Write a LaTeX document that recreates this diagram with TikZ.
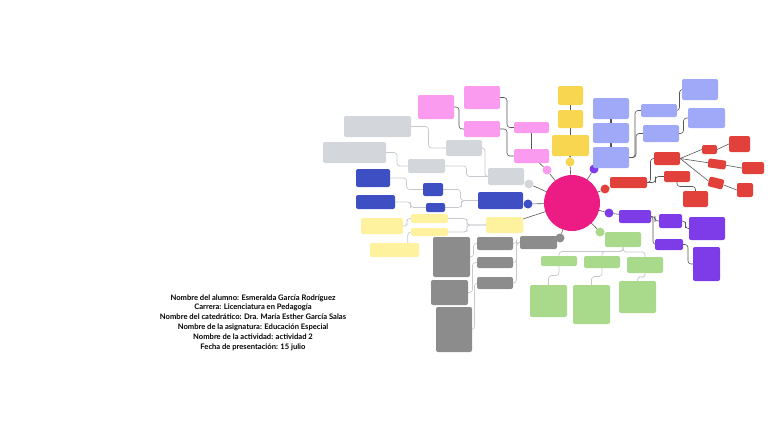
\documentclass[tikz,border=0pt]{standalone}
\usepackage{fontspec}
\setmainfont{Lato}
\usetikzlibrary{calc, backgrounds}
\definecolor{hub}{HTML}{EC1C84}
\definecolor{pkc}{HTML}{FB9BF0}
\definecolor{gyc}{HTML}{D3D6DB}
\definecolor{blc}{HTML}{3D4FC2}
\definecolor{ylc}{HTML}{FFF29E}
\definecolor{ytc}{HTML}{F9D650}
\definecolor{dgc}{HTML}{8C8C8C}
\definecolor{gnc}{HTML}{A9DA8C}
\definecolor{puc}{HTML}{7D3CE8}
\definecolor{rdc}{HTML}{E2403A}
\definecolor{lvc}{HTML}{9FA9F7}
\definecolor{lk}{HTML}{555555}
\definecolor{lkl}{HTML}{C6CAD0}

\begin{document}
\begin{tikzpicture}[x=1pt, y=-1pt,
    box/.style={rounded corners=2pt, inner sep=0pt},
    sz/.style 2 args={minimum width=#1, minimum height=#2},
    pk/.style={box, fill=pkc}, gy/.style={box, fill=gyc}, bl/.style={box, fill=blc},
    yl/.style={box, fill=ylc}, yt/.style={box, fill=ytc}, dg/.style={box, fill=dgc},
    gn/.style={box, fill=gnc}, pu/.style={box, fill=puc}, rd/.style={box, fill=rdc},
    lv/.style={box, fill=lvc},
    dot/.style={circle, inner sep=0pt, minimum size=9},
    ln/.style={draw=lk, line width=0.6pt},
    lnl/.style={draw=lkl, line width=0.7pt},
    stem/.style={draw=lk, line width=1.5pt},
    elbow/.style={rounded corners=3pt, to path={-| ($(\tikztostart)!0.5!(\tikztotarget)$) |- (\tikztotarget)}},
    elbowv/.style={rounded corners=3pt, to path={|- ($(\tikztostart)!0.5!(\tikztotarget)$) -| (\tikztotarget)}}]

  \useasboundingbox (0,0) rectangle (768,431);

  % centre and its dots
  \node[circle, fill=hub, minimum size=56, inner sep=0pt] (hub) at (572,203) {};
  \node[dot, fill=pkc] (cpk) at (547,170) {};
  \node[dot, fill=ytc] (cyl) at (570,162) {};
  \node[dot, fill=puc] (clv) at (594,169) {};
  \node[dot, fill=gyc] (cgy) at (529,184) {};
  \node[dot, fill=blc] (cbl) at (528,204) {};
  \node[dot, fill=dgc] (cdg) at (560,238) {};
  \node[dot, fill=gnc] (cgn) at (600,232) {};
  \node[dot, fill=puc] (cpu) at (609,213) {};
  \node[dot, fill=rdc] (crd) at (605,189) {};

  % pink
  \node[pk, sz={36}{24}] (pkA) at (436,107) {};
  \node[pk, sz={36}{23}] (pkB) at (482,97.5) {};
  \node[pk, sz={36}{16}] (pkC) at (482,129) {};
  \node[pk, sz={35}{11}] (pkD) at (531.5,127.5) {};
  \node[pk, sz={35}{14}] (pkE) at (531.5,156) {};

  % gray
  \node[gy, sz={67}{21}] (g1) at (377.5,126.5) {};
  \node[gy, sz={36}{16}] (g2) at (464,148) {};
  \node[gy, sz={63}{21}] (g3) at (354.5,152.5) {};
  \node[gy, sz={37}{14}] (g4) at (426.5,166) {};
  \node[gy, sz={36}{17}] (g5) at (506,176.5) {};

  % blue
  \node[bl, sz={34}{18}] (b1) at (373,178) {};
  \node[bl, sz={20}{13}] (b2) at (433,189.5) {};
  \node[bl, sz={39}{14}] (b3) at (375.5,202) {};
  \node[bl, sz={19}{9}] (b4) at (435.5,207.5) {};
  \node[bl, sz={45}{17}] (b5) at (500.5,200.5) {};

  % yellow, left
  \node[yl, sz={37}{9}] (y1) at (429.5,218.5) {};
  \node[yl, sz={37}{8}] (y2) at (429.5,232) {};
  \node[yl, sz={42}{16}] (y3) at (382,226) {};
  \node[yl, sz={49}{14}] (y4) at (394.5,250) {};
  \node[yl, sz={37}{16}] (y5) at (504.5,225) {};

  % yellow, top
  \node[yt, sz={25}{19}] (yt1) at (570.5,95.5) {};
  \node[yt, sz={25}{18}] (yt2) at (570.5,119) {};
  \node[yt, sz={37}{21}] (yt3) at (570.5,145.5) {};

  % dark gray
  \node[dg, sz={37}{40}] (d1) at (451.5,257) {};
  \node[dg, sz={37}{25}] (d2) at (449.5,292.5) {};
  \node[dg, sz={36}{45}] (d3) at (454,329.5) {};
  \node[dg, sz={36}{13}] (dm1) at (495,243.5) {};
  \node[dg, sz={36}{11}] (dm2) at (495,262.5) {};
  \node[dg, sz={36}{12}] (dm3) at (495,283) {};
  \node[dg, sz={37}{13}] (dr) at (538.5,242.5) {};

  % green
  \node[gn, sz={36}{15}] (gn0) at (623,239.5) {};
  \node[gn, sz={36}{10}] (gn1) at (559,261) {};
  \node[gn, sz={36}{12}] (gn2) at (602,262) {};
  \node[gn, sz={36}{16}] (gn3) at (645,265) {};
  \node[gn, sz={37}{32}] (gn4) at (548.5,301) {};
  \node[gn, sz={37}{39}] (gn5) at (591.5,304.5) {};
  \node[gn, sz={37}{32}] (gn6) at (637.5,297) {};

  % purple
  \node[pu, sz={32}{13}] (pu1) at (635,216.5) {};
  \node[pu, sz={23}{14}] (pu2) at (670.5,221) {};
  \node[pu, sz={28}{11}] (pu3) at (669,244.5) {};
  \node[pu, sz={36}{23}] (pu4) at (707,228.5) {};
  \node[pu, sz={27}{34}] (pu5) at (706.5,264) {};

  % red
  \node[rd, sz={37}{11}] (r1) at (628.5,182.5) {};
  \node[rd, sz={26}{13}] (r2) at (667,158.5) {};
  \node[rd, sz={26}{11}] (r3) at (677,176.5) {};
  \node[rd, sz={25}{16}] (r4) at (695.5,199) {};
  \node[rd, sz={15}{9}] (r5) at (709.5,149.5) {};
  \node[rd, sz={18}{9}, rotate=-8] (r6) at (717,164) {};
  \node[rd, sz={15}{10}, rotate=-14] (r7) at (716,183) {};
  \node[rd, sz={21}{16}] (r8) at (739.5,144) {};
  \node[rd, sz={22}{12}] (r9) at (753,168) {};
  \node[rd, sz={16}{14}] (r10) at (745,190) {};

  % lavender
  \node[lv, sz={36}{21}] (l1) at (611,108.5) {};
  \node[lv, sz={36}{20}] (l2) at (611,133) {};
  \node[lv, sz={36}{21}] (l3) at (611,157.5) {};
  \node[lv, sz={36}{13}] (la) at (659,110.5) {};
  \node[lv, sz={36}{17}] (lb) at (661,133.5) {};
  \node[lv, sz={36}{21}] (lt1) at (700,89.5) {};
  \node[lv, sz={37}{20}] (lt2) at (706.5,118) {};

  \node[font=\bfseries\fontsize{7.6}{9.8}\selectfont, align=center, text=black] (info) at (253,322.5)
    {Nombre del alumno: Esmeralda García Rodríguez\\
     Carrera: Licenciatura en Pedagogía\\
     Nombre del catedrático: Dra. María Esther García Salas\\
     Nombre de la asignatura: Educación Especial\\
     Nombre de la actividad: actividad 2\\
     Fecha de presentación: 15 julio};

  \begin{scope}[on background layer]
    \foreach \c in {cpk, cyl, clv, cgy, cbl, cdg, cgn, cpu, crd, y5}
      \draw[ln] (hub.center) -- (\c);
    % pink
    \draw[ln, elbow] (pkA.east) to (pkC.west);
    \draw[ln, elbow] (pkB.east) to (pkD.west);
    \draw[ln, elbow] (pkC.east) to (pkE.west);
    \draw[stem] (pkD) -- (pkE);
    \draw[ln] (cpk) -- (pkE);
    % gray
    \draw[lnl, elbow] (g1.east) to (g2.west);
    \draw[lnl, elbow] (g3.east) to (g4.west);
    \draw[lnl, elbow] (g2.east) to (g5.west);
    \draw[lnl, elbow] (g4.east) to (g5.west);
    \draw[lnl] (g5) -- (cgy);
    % blue
    \draw[lnl, elbow] (b1.east) to (b2.west);
    \draw[lnl, elbow] (b3.east) to (b4.west);
    \draw[lnl, elbow] (b2.east) to (b5.west);
    \draw[lnl, elbow] (b4.east) to (b5.west);
    \draw[lnl] (b5) -- (cbl);
    % yellow
    \draw[lnl, elbow] (y3.east) to (y1.west);
    \draw[lnl, rounded corners=3pt] (y2.west) -- ++(-3,0) |- (y4.east);
    \draw[lnl, elbow] (y1.east) to (y5.west);
    \draw[lnl, elbow] (y2.east) to (y5.west);
    \draw[stem] (cyl) -- (yt3);
    \draw[stem] (yt3) -- (yt2);
    \draw[stem] (yt2) -- (yt1);
    % dark gray
    \draw[lnl, elbow] (d1.east) to (dm1.west);
    \draw[lnl, elbow] (d2.east) to (dm2.west);
    \draw[lnl, elbow] (d3.east) to (dm3.west);
    \foreach \m in {dm1, dm2, dm3}
      \draw[lnl, elbow] (\m.east) to (dr.west);
    \draw[lnl] (dr) -- (cdg);
    % green
    \draw[lnl] (cgn) -- (gn0);
    \foreach \k/\l in {gn1/gn4, gn2/gn5, gn3/gn6} {
      \draw[lnl, elbowv] (gn0.south) to (\k.north);
      \draw[lnl, elbowv] (\k.south) to (\l.north);
    }
    % purple
    \draw[ln] (cpu) -- (pu1);
    \draw[ln, elbow] (pu1.east) to (pu2.west);
    \draw[ln, elbow] (pu1.east) to (pu3.west);
    \draw[ln, elbow] (pu2.east) to (pu4.west);
    \draw[ln, elbow] (pu3.east) to (pu5.west);
    % red
    \draw[ln] (crd) -- (r1);
    \draw[ln, elbow] (r1.east) to (r2.west);
    \draw[ln, elbow] (r1.east) to (r3.west);
    \draw[ln, elbowv] (r3.south) to (r4.north);
    \foreach \s/\t in {r5/r8, r6/r9, r7/r10} {
      \draw[ln] (r2.east) -- (\s.west);
      \draw[ln] (\s.east) -- (\t.west);
    }
    % lavender
    \draw[ln] (clv) -- (l3);
    \draw[stem] (l1) -- (l2);
    \draw[stem] (l2) -- (l3);
    \draw[ln, elbow] (l3.east) to (la.west);
    \draw[ln, elbow] (l3.east) to (lb.west);
    \draw[ln, elbow] (la.east) to (lt1.west);
    \draw[ln, elbow] (lb.east) to (lt2.west);
  \end{scope}
\end{tikzpicture}
\end{document}
